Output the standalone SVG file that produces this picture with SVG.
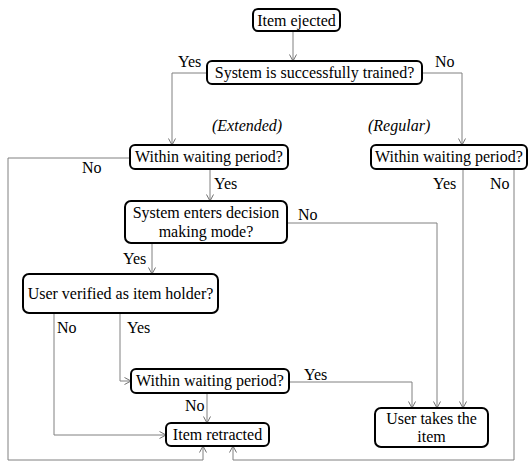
<svg xmlns="http://www.w3.org/2000/svg" width="529" height="464" viewBox="0 0 529 464">
<defs>
<marker id="arr" markerUnits="userSpaceOnUse" markerWidth="8" markerHeight="8" refX="7" refY="4" orient="auto">
<path d="M0.5,0.5 L7,4 L0.5,7.5" fill="none" stroke="#707070" stroke-width="1"/>
</marker>
</defs>
<style>
.box{fill:#fff;stroke:#000;stroke-width:2}
.t{font-family:"Liberation Serif","Times New Roman",serif;font-size:16px;fill:#000}
.c{text-anchor:middle}
.i{font-style:italic}
.ln{fill:none;stroke:#808080;stroke-width:1}
.a{marker-end:url(#arr)}
</style>
<rect width="529" height="464" fill="#fff"/>
<g id="connectors">
<path class="ln a" d="M293,31 V61"/>
<path class="ln a" d="M207,73 H172 V145"/>
<path class="ln a" d="M422,73 H462 V145"/>
<path class="ln a" d="M130,158 H8 V460 H203 V446"/>
<path class="ln a" d="M210,169 V201"/>
<path class="ln a" d="M287,223 H437 V408"/>
<path class="ln a" d="M152,243 V274"/>
<path class="ln a" d="M54,313 V435 H166"/>
<path class="ln a" d="M120,309 V381 H131"/>
<path class="ln a" d="M289,382 H412 V408"/>
<path class="ln a" d="M207,393 V423"/>
<path class="ln a" d="M463,169 V408"/>
<path class="ln a" d="M514,169 V460 H233 V446"/>
</g>
<g id="labels">
<text class="t" x="178" y="67">Yes</text>
<text class="t" x="435" y="67">No</text>
<text class="t i" x="212" y="131">(Extended)</text>
<text class="t i" x="368" y="131">(Regular)</text>
<text class="t" x="82" y="173">No</text>
<text class="t" x="214" y="189">Yes</text>
<text class="t" x="298" y="220">No</text>
<text class="t" x="433" y="189">Yes</text>
<text class="t" x="490" y="189">No</text>
<text class="t" x="123" y="264">Yes</text>
<text class="t" x="57" y="333">No</text>
<text class="t" x="127" y="333">Yes</text>
<text class="t" x="304" y="380">Yes</text>
<text class="t" x="185" y="411">No</text>
</g>
<g id="n-ejected">
<rect class="box" x="253" y="9" width="87" height="22" rx="5"/>
<text class="t c" x="296.5" y="26">Item ejected</text>
</g>
<g id="n-trained">
<rect class="box" x="207" y="61" width="215" height="23" rx="5"/>
<text class="t c" x="314.5" y="78">System is successfully trained?</text>
</g>
<g id="n-wait-ext">
<rect class="box" x="130" y="145" width="158" height="24" rx="5"/>
<text class="t c" x="209" y="162">Within waiting period?</text>
</g>
<g id="n-wait-reg">
<rect class="box" x="371" y="145" width="156" height="24" rx="5"/>
<text class="t c" x="449" y="162">Within waiting period?</text>
</g>
<g id="n-decision">
<rect class="box" x="125" y="201" width="162" height="42" rx="6"/>
<text class="t c" x="206" y="218">System enters decision</text>
<text class="t c" x="206" y="237">making mode?</text>
</g>
<g id="n-verified">
<rect class="box" x="23" y="274" width="195" height="39" rx="6"/>
<text class="t c" x="120.5" y="299">User verified as item holder?</text>
</g>
<g id="n-wait-bottom">
<rect class="box" x="131" y="369" width="158" height="24" rx="5"/>
<text class="t c" x="210" y="386">Within waiting period?</text>
</g>
<g id="n-retracted">
<rect class="box" x="166" y="423" width="103" height="23" rx="5"/>
<text class="t c" x="217.5" y="440">Item retracted</text>
</g>
<g id="n-takes">
<rect class="box" x="375" y="408" width="113" height="39" rx="6"/>
<text class="t c" x="431.5" y="424">User takes the</text>
<text class="t c" x="431.5" y="442">item</text>
</g>
</svg>
